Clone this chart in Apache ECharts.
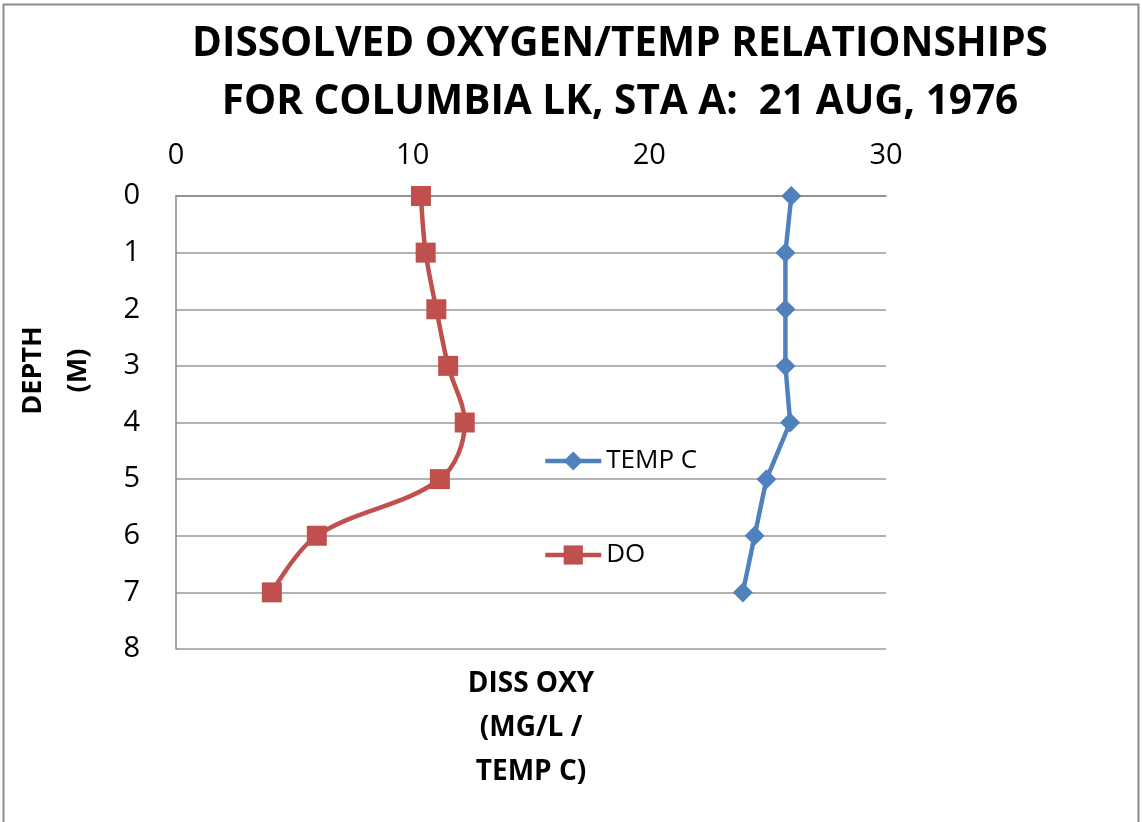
<!DOCTYPE html>
<html>
<head>
<meta charset="utf-8">
<script src="https://cdn.jsdelivr.net/npm/echarts@6/dist/echarts.min.js"></script>
<style>
html,body{margin:0;padding:0;background:#fff;}
#chart{width:1142px;height:822px;}
</style>
</head>
<body>
<div id="chart"></div>
<script>
var depths = [0, 1, 2, 3, 4, 5, 6, 7];
var tempC = [26.0, 25.75, 25.75, 25.75, 25.95, 24.95, 24.45, 23.95];
var dissOxy = [10.35, 10.55, 11.0, 11.5, 12.2, 11.15, 5.95, 4.05];
var xTicks = [0, 10, 20, 30];
var yTicks = [0, 1, 2, 3, 4, 5, 6, 7, 8];
var titleLines = ['DISSOLVED OXYGEN/TEMP RELATIONSHIPS', 'FOR COLUMBIA LK, STA A:  21 AUG, 1976'];

function pairs(vals) {
  return vals.map(function (v, i) { return [v, depths[i]]; });
}

var font = "'Open Sans', 'Liberation Sans', sans-serif";
var chart = echarts.init(document.getElementById('chart'), null, {renderer: 'canvas'});
chart.setOption({
  backgroundColor: '#ffffff',
  animation: false,
  title: {
    text: titleLines.join('\n'),
    left: 615, top: 10,
    textAlign: 'center',
    textStyle: {
      fontFamily: font,
      fontWeight: 'bold', fontSize: 40.5, lineHeight: 58, color: '#000'
    }
  },
  graphic: [{
    type: 'rect',
    shape: {x: 3.5, y: 4.5, width: 1135, height: 840},
    style: {fill: 'none', stroke: '#8c8c8c', lineWidth: 2},
    silent: true
  }],
  grid: {left: 176, top: 196, right: 256, bottom: 173, containLabel: false, outerBoundsMode: 'none'},
  legend: {
    orient: 'vertical',
    left: 538, top: 443,
    itemGap: 68,
    itemWidth: 56, itemHeight: 24,
    lineStyle: {width: 4.5},
    textStyle: {fontFamily: font, fontSize: 26, color: '#000'},
    data: [
      {name: 'TEMP C', lineStyle: {width: 4.5}},
      {name: 'DO', lineStyle: {width: 4.5}}
    ]
  },
  xAxis: {
    type: 'value',
    position: 'top',
    min: 0, max: 30, interval: 10,
    name: 'DISS OXY\n(MG/L /\nTEMP C)',
    nameLocation: 'middle',
    nameGap: -598,
    nameTextStyle: {fontFamily: font, fontWeight: 'bold', fontSize: 28, lineHeight: 44, color: '#000'},
    axisLine: {show: true, lineStyle: {color: '#888', width: 1.5}},
    axisTick: {show: false},
    splitLine: {show: false},
    axisLabel: {
      fontFamily: font, fontSize: 29, color: '#000', margin: 26,
      formatter: function (v) { return xTicks.indexOf(v) >= 0 ? String(v) : ''; }
    }
  },
  yAxis: {
    type: 'value',
    inverse: true,
    min: 0, max: 8, interval: 1,
    name: 'DEPTH\n(M)',
    nameLocation: 'middle',
    nameGap: 75,
    nameRotate: 90,
    nameTextStyle: {fontFamily: font, fontWeight: 'bold', fontSize: 27, lineHeight: 45, color: '#000', padding: [0, 0, 0, 104]},
    axisLine: {show: true, lineStyle: {color: '#888', width: 1.5}},
    axisTick: {show: false},
    splitLine: {show: true, lineStyle: {color: '#999', width: 1.5}},
    axisLabel: {
      fontFamily: font, fontSize: 29, color: '#000', margin: 36,
      formatter: function (v) { return yTicks.indexOf(v) >= 0 ? String(v) : ''; }
    }
  },
  series: [{
    name: 'TEMP C',
    type: 'line',
    data: pairs(tempC),
    symbol: 'diamond',
    symbolSize: 20,
    itemStyle: {color: '#4F81BD'},
    lineStyle: {color: '#4F81BD', width: 4.5},
    z: 3
  }, {
    name: 'DO',
    type: 'line',
    data: pairs(dissOxy),
    smooth: 0.35,
    symbol: 'rect',
    symbolSize: 20,
    itemStyle: {color: '#C0504D'},
    lineStyle: {color: '#C0504D', width: 4.5},
    z: 3
  }]
});
</script>
</body>
</html>
